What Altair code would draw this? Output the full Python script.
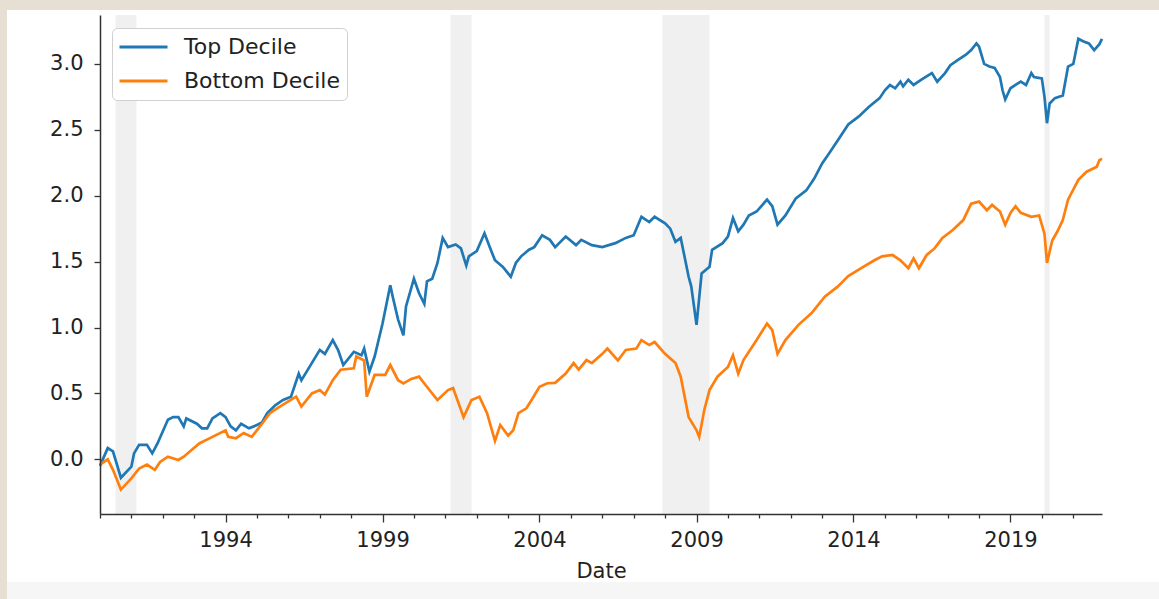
import altair as alt
import pandas as pd

# ---- data ------------------------------------------------------------------
top_dates = [
    "1990-01", "1990-04", "1990-06", "1990-09", "1991-01", "1991-02", "1991-04", "1991-07",
    "1991-09", "1991-11", "1992-03", "1992-05", "1992-07", "1992-09", "1992-10", "1993-02",
    "1993-04", "1993-06", "1993-08", "1993-11", "1994-01", "1994-03", "1994-05", "1994-07",
    "1994-10", "1995-01", "1995-03", "1995-05", "1995-08", "1995-11", "1996-02", "1996-05",
    "1996-06", "1996-08", "1997-01", "1997-03", "1997-06", "1997-08", "1997-10", "1998-02",
    "1998-05", "1998-06", "1998-08", "1998-10", "1999-01", "1999-04", "1999-05", "1999-07",
    "1999-09", "1999-10", "2000-01", "2000-03", "2000-05", "2000-06", "2000-08", "2000-10",
    "2000-12", "2001-02", "2001-05", "2001-07", "2001-09", "2001-10", "2002-01", "2002-04",
    "2002-06", "2002-08", "2002-11", "2003-02", "2003-04", "2003-06", "2003-09", "2003-11",
    "2004-02", "2004-05", "2004-07", "2004-11", "2005-03", "2005-05", "2005-09", "2006-01",
    "2006-06", "2006-10", "2007-01", "2007-04", "2007-07", "2007-09", "2008-01", "2008-03",
    "2008-05", "2008-07", "2008-10", "2008-11", "2009-01", "2009-03", "2009-06", "2009-07",
    "2009-11", "2010-01", "2010-03", "2010-05", "2010-07", "2010-09", "2010-12", "2011-04",
    "2011-06", "2011-08", "2011-11", "2012-03", "2012-07", "2012-10", "2013-01", "2013-04",
    "2013-08", "2013-11", "2014-03", "2014-07", "2014-11", "2015-01", "2015-03", "2015-05",
    "2015-07", "2015-08", "2015-10", "2015-12", "2016-03", "2016-07", "2016-09", "2016-12",
    "2017-02", "2017-05", "2017-08", "2017-10", "2017-12", "2018-01", "2018-03", "2018-05",
    "2018-07", "2018-09", "2018-10", "2018-11", "2019-01", "2019-03", "2019-05", "2019-07",
    "2019-09", "2019-10", "2020-01", "2020-02", "2020-03", "2020-04", "2020-06", "2020-09",
    "2020-11", "2021-01", "2021-03", "2021-05", "2021-07", "2021-09", "2021-11", "2021-12",
]
top_values = [
    -0.05, 0.085, 0.06, -0.14, -0.056, 0.045, 0.11, 0.11,
    0.045, 0.12, 0.30, 0.32, 0.32, 0.25, 0.31, 0.27,
    0.235, 0.235, 0.31, 0.35, 0.32, 0.25, 0.22, 0.27,
    0.235, 0.26, 0.28, 0.35, 0.41, 0.45, 0.475, 0.65,
    0.60, 0.665, 0.83, 0.80, 0.905, 0.83, 0.715, 0.815,
    0.79, 0.84, 0.665, 0.78, 1.03, 1.32, 1.23, 1.06,
    0.94, 1.16, 1.37, 1.26, 1.18, 1.35, 1.37, 1.49,
    1.68, 1.61, 1.63, 1.60, 1.47, 1.54, 1.58, 1.715,
    1.61, 1.51, 1.46, 1.385, 1.49, 1.54, 1.59, 1.61,
    1.70, 1.665, 1.61, 1.69, 1.625, 1.665, 1.625, 1.61,
    1.64, 1.68, 1.70, 1.84, 1.80, 1.84, 1.79, 1.75,
    1.65, 1.68, 1.385, 1.31, 1.02, 1.41, 1.46, 1.59,
    1.64, 1.69, 1.83, 1.73, 1.78, 1.85, 1.88, 1.97,
    1.92, 1.78, 1.85, 1.98, 2.04, 2.13, 2.245, 2.33,
    2.45, 2.54, 2.60, 2.675, 2.74, 2.80, 2.84, 2.815,
    2.865, 2.83, 2.88, 2.84, 2.88, 2.93, 2.865, 2.93,
    2.99, 3.03, 3.07, 3.105, 3.155, 3.13, 3.00, 2.98,
    2.97, 2.90, 2.80, 2.73, 2.815, 2.84, 2.865, 2.84,
    2.93, 2.90, 2.89, 2.75, 2.55, 2.70, 2.74, 2.76,
    2.98, 3.00, 3.19, 3.17, 3.155, 3.105, 3.15, 3.19,
]

bottom_dates = [
    "1990-01", "1990-04", "1990-06", "1990-09", "1991-01", "1991-04", "1991-07", "1991-10",
    "1991-12", "1992-03", "1992-07", "1992-09", "1993-03", "1993-08", "1994-01", "1994-02",
    "1994-05", "1994-08", "1994-11", "1995-03", "1995-06", "1995-09", "1996-01", "1996-04",
    "1996-06", "1996-10", "1997-01", "1997-03", "1997-06", "1997-09", "1998-02", "1998-03",
    "1998-06", "1998-07", "1998-10", "1999-02", "1999-04", "1999-07", "1999-09", "1999-12",
    "2000-03", "2000-05", "2000-10", "2001-02", "2001-04", "2001-08", "2001-11", "2002-02",
    "2002-05", "2002-08", "2002-10", "2003-01", "2003-03", "2003-05", "2003-08", "2003-10",
    "2004-01", "2004-04", "2004-07", "2004-11", "2005-02", "2005-04", "2005-07", "2005-09",
    "2006-01", "2006-03", "2006-07", "2006-10", "2007-02", "2007-04", "2007-07", "2007-09",
    "2008-01", "2008-05", "2008-07", "2008-10", "2009-01", "2009-02", "2009-04", "2009-06",
    "2009-09", "2010-01", "2010-03", "2010-05", "2010-07", "2010-12", "2011-04", "2011-06",
    "2011-08", "2011-11", "2012-04", "2012-09", "2013-02", "2013-07", "2013-11", "2014-04",
    "2014-09", "2014-12", "2015-04", "2015-07", "2015-10", "2015-12", "2016-02", "2016-05",
    "2016-08", "2016-11", "2017-03", "2017-07", "2017-10", "2018-01", "2018-04", "2018-06",
    "2018-09", "2018-11", "2019-01", "2019-03", "2019-05", "2019-09", "2019-12", "2020-02",
    "2020-03", "2020-05", "2020-07", "2020-09", "2020-11", "2021-03", "2021-06", "2021-10",
    "2021-11", "2021-12",
]
bottom_values = [
    -0.04, 0.0, -0.08, -0.23, -0.145, -0.07, -0.04, -0.08,
    -0.02, 0.02, -0.005, 0.02, 0.12, 0.17, 0.22, 0.17,
    0.16, 0.20, 0.17, 0.27, 0.35, 0.39, 0.44, 0.475,
    0.40, 0.50, 0.525, 0.49, 0.60, 0.68, 0.69, 0.78,
    0.75, 0.475, 0.64, 0.64, 0.715, 0.60, 0.575, 0.61,
    0.627, 0.575, 0.45, 0.525, 0.54, 0.32, 0.45, 0.475,
    0.35, 0.14, 0.26, 0.18, 0.22, 0.35, 0.387, 0.45,
    0.55, 0.577, 0.58, 0.65, 0.73, 0.68, 0.753, 0.73,
    0.80, 0.84, 0.75, 0.83, 0.84, 0.905, 0.867, 0.89,
    0.80, 0.73, 0.627, 0.32, 0.22, 0.17, 0.374, 0.525,
    0.627, 0.70, 0.79, 0.65, 0.753, 0.905, 1.03, 0.98,
    0.80, 0.905, 1.02, 1.11, 1.234, 1.31, 1.39, 1.45,
    1.51, 1.54, 1.55, 1.51, 1.45, 1.525, 1.45, 1.55,
    1.60, 1.68, 1.74, 1.815, 1.94, 1.955, 1.89, 1.93,
    1.88, 1.78, 1.87, 1.92, 1.87, 1.84, 1.85, 1.71,
    1.49, 1.66, 1.73, 1.815, 1.97, 2.12, 2.18, 2.22,
    2.27, 2.28,
]

series_names = ["Top Decile", "Bottom Decile"]
series_colors = ["#1f77b4", "#ff7f0e"]

recession_start = ["1990-07-01", "2001-03-01", "2007-12-01", "2020-02-01"]
recession_end = ["1991-03-01", "2001-11-01", "2009-06-01", "2020-04-01"]

y_ticks = [0.0, 0.5, 1.0, 1.5, 2.0, 2.5, 3.0]
y_domain = [-0.415, 3.371]
x_tick_years = list(range(1990, 2022))
x_domain_start = (1990, 1, 1)
x_domain_end = (2021, 12, 1)

# ---- frames ----------------------------------------------------------------
lines_df = pd.concat([
    pd.DataFrame({"date": [d + "-01" for d in top_dates], "value": top_values,
                  "series": series_names[0]}),
    pd.DataFrame({"date": [d + "-01" for d in bottom_dates], "value": bottom_values,
                  "series": series_names[1]}),
], ignore_index=True)
rec_df = pd.DataFrame({"start": recession_start, "end": recession_end})

FONT = "DejaVu Sans"
TXT = "#222222"
W, H = 1002, 499

x_scale = alt.Scale(
    type="utc",
    domain=[alt.DateTime(year=x_domain_start[0], month=x_domain_start[1], date=x_domain_start[2], utc=True),
            alt.DateTime(year=x_domain_end[0], month=x_domain_end[1], date=x_domain_end[2], utc=True)],
)
y_scale = alt.Scale(domain=y_domain, nice=False, zero=False)

is_major = "(utcyear(datum.value) - 1994) % 5 == 0"

x_axis = alt.Axis(
    title="Date",
    values=[alt.DateTime(year=yr, month=1, date=1, utc=True) for yr in x_tick_years],
    labelExpr=f"{is_major} ? utcFormat(datum.value, '%Y') : ''",
    labelOverlap=False,
    labelFlush=False,
    tickSize={"condition": {"test": is_major, "value": 8}, "value": 4},
    labelPadding=7,
    titlePadding=10,
    grid=False,
    zindex=1,
)
y_axis = alt.Axis(
    title=None,
    values=y_ticks,
    format=".1f",
    tickSize=6,
    labelPadding=11,
    grid=False,
    zindex=1,
)

# decorative page frame (white panel over a beige background)
frame = alt.Chart(pd.DataFrame({"k": [0]})).mark_rect(color="white").encode(
    x=alt.value(-93), x2=alt.value(W + 57), y=alt.value(-5), y2=alt.value(H + 68)
)
bottom_strip = alt.Chart(pd.DataFrame({"k": [0]})).mark_rect(color="#f6f6f6").encode(
    x=alt.value(-93), x2=alt.value(W + 57), y=alt.value(H + 68), y2=alt.value(H + 90)
)

shade = alt.Chart(rec_df).mark_rect(color="#f0f0f0").encode(
    x=alt.X("start:T", scale=x_scale, axis=x_axis),
    x2="end:T",
)

lines = alt.Chart(lines_df).mark_line(strokeWidth=2.7).encode(
    x=alt.X("date:T", scale=x_scale, axis=x_axis),
    y=alt.Y("value:Q", scale=y_scale, axis=y_axis),
    color=alt.Color(
        "series:N",
        scale=alt.Scale(domain=series_names, range=series_colors),
        sort=series_names,
        legend=alt.Legend(
            title=None, orient="none", legendX=12, legendY=13,
            symbolType="stroke", symbolSize=2304, symbolStrokeWidth=3,
            labelFontSize=22, labelFont=FONT, labelColor=TXT,
            labelOffset=15, padding=6, rowPadding=8, clipHeight=26,
            fillColor="white", strokeColor="#d0d0d0", cornerRadius=5,
        ),
    ),
)

chart = alt.layer(frame, bottom_strip, shade, lines).properties(
    width=W, height=H,
    background="#e7ded4",
    padding={"left": 100, "top": 15, "right": 57, "bottom": 85},
    autosize=alt.AutoSizeParams(type="none"),
).configure_view(stroke=None).configure_axis(
    labelFont=FONT, labelFontSize=21, labelColor=TXT,
    titleFont=FONT, titleFontSize=21, titleColor=TXT, titleFontWeight="normal",
    domainColor="#333333", tickColor="#333333", domainWidth=1.5, tickWidth=1.3,
)

chart.save("out.html", embed_options={"renderer": "svg", "actions": False})
